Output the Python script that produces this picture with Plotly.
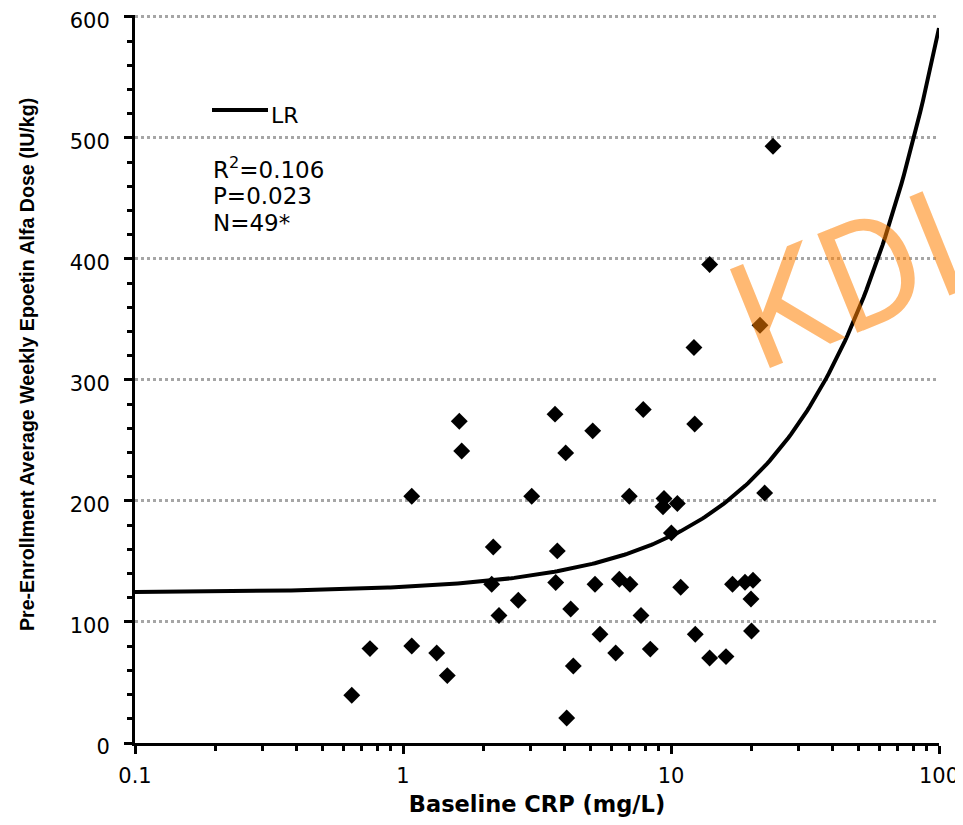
import numpy as np
import plotly.graph_objects as go

# ---- data ----
crp = [0.644, 0.753, 1.078, 1.078, 1.336, 1.463, 1.622, 1.656, 2.172, 2.143,
       2.281, 2.693, 3.022, 3.692, 4.047, 3.765, 3.714, 4.225, 4.320, 4.082,
       5.104, 5.205, 5.434, 6.218, 6.414, 7.031, 6.989, 7.880, 7.728, 8.371,
       9.417, 9.335, 10.56, 10.03, 10.87, 12.26, 12.32, 13.94, 16.04, 16.96,
       18.89, 20.23, 19.88, 19.97, 22.36, 24.02, 13.94, 21.48, 12.18]
dose = [39.4, 78.0, 203.9, 80.2, 74.4, 55.7, 265.9, 241.3, 162.0, 131.2,
        105.3, 117.9, 203.9, 271.7, 239.7, 158.7, 132.6, 110.7, 63.6, 20.7,
        257.9, 131.2, 89.8, 74.4, 135.3, 131.2, 203.9, 275.5, 105.3, 77.6,
        202.0, 195.2, 197.9, 173.6, 128.7, 263.6, 89.8, 70.2, 71.4, 131.2,
        132.8, 134.5, 119.0, 92.5, 206.6, 493.1, 395.4, 345.2, 326.8]

lr_intercept = 124.3   # linear regression dose = a + b * CRP
lr_slope = 4.664

x_tickvals = [0.1, 1, 10, 100]
x_ticktext = ["0.1", "1", "10", "100"]

stats_lines = ["R<sup>2</sup>=0.106", "P=0.023", "N=49*"]
legend_label = "LR"
watermark = "KDI"

x_title = "Baseline CRP (mg/L)"
y_title = "Pre-Enrollment Average Weekly Epoetin Alfa Dose (IU/kg)"

# ---- figure geometry (page body adds an 8px offset) ----
OFF = 8
W, H = 963 - OFF, 825 - OFF
L, R, T, B = 135 - OFF, 24, 15 - OFF, 82
PW, PH = W - L - R, H - T - B


def fx(p):
    return (p - OFF - L) / PW


def fy(p):
    return (H - B - (p - OFF)) / PH


fit_x = np.logspace(-1, 2, 300)
fit_y = lr_intercept + lr_slope * fit_x

fig = go.Figure()
fig.add_trace(go.Scatter(
    x=fit_x, y=fit_y, mode="lines", name=legend_label,
    line=dict(color="black", width=4), showlegend=False,
    cliponaxis=False,
))
fig.add_trace(go.Scatter(
    x=crp, y=dose, mode="markers", name="Patients",
    marker=dict(symbol="diamond", size=13, color="black"),
    showlegend=False,
))

tick_font = dict(family="DejaVu Sans", size=21, color="black")

fig.update_xaxes(
    type="log", range=[-1, 2], automargin=False, ticklabeloverflow="allow",
    tickmode="array", tickvals=x_tickvals, ticktext=x_ticktext,
    ticks="outside", ticklen=8, tickwidth=3, tickcolor="black",
    showline=True, linewidth=3, linecolor="black",
    showgrid=False, zeroline=False,
    minor=dict(ticks="outside", ticklen=5, tickwidth=3, tickcolor="black",
               dtick="D1", showgrid=False),
    tickfont=tick_font, ticklabelstandoff=4,
    title=dict(text=x_title, standoff=10,
               font=dict(family="DejaVu Sans", size=22.5, color="black",
                         weight="bold")),
)
fig.update_yaxes(
    range=[0, 601.5], tick0=0, dtick=100, automargin=False,
    ticklabeloverflow="allow", ticklabelshift=4,
    ticks="outside", ticklen=8, tickwidth=3, tickcolor="black",
    showline=True, linewidth=3, linecolor="black",
    showgrid=True, gridcolor="#a6a6a6", griddash="dot", gridwidth=3,
    zeroline=False,
    minor=dict(ticks="outside", ticklen=5, tickwidth=3, tickcolor="black",
               dtick=20, showgrid=False),
    tickfont=tick_font, ticklabelstandoff=10,
)

annotations = [
    dict(text=y_title, xref="paper", yref="paper", x=fx(27), y=fy(365),
         xanchor="center", yanchor="middle", textangle=-90, showarrow=False,
         font=dict(family="Liberation Sans", size=19.6, color="black",
                   weight="bold")),
    dict(text=legend_label, xref="paper", yref="paper", x=fx(269), y=fy(115.5),
         xanchor="left", yanchor="middle", showarrow=False,
         font=dict(family="DejaVu Sans", size=22, color="black")),
]
for txt, yc in zip(stats_lines, [167.5, 195.8, 222.5]):
    annotations.append(dict(
        text=txt, xref="paper", yref="paper", x=fx(211), y=fy(yc),
        xanchor="left", yanchor="middle", showarrow=False,
        font=dict(family="DejaVu Sans", size=23, color="black")))
annotations.append(dict(
    text=watermark, xref="paper", yref="paper", x=fx(847), y=fy(282),
    xanchor="center", yanchor="middle", textangle=-22, showarrow=False,
    font=dict(family="Roboto", size=150, color="rgba(255,128,0,0.55)")))

fig.update_layout(
    width=W, height=H,
    margin=dict(l=L, r=R, t=T, b=B),
    plot_bgcolor="white", paper_bgcolor="white",
    annotations=annotations,
    shapes=[dict(type="line", xref="paper", yref="paper",
                 x0=fx(212), x1=fx(268), y0=fy(110), y1=fy(110),
                 line=dict(color="black", width=4))],
)

fig.write_html("out.html")
